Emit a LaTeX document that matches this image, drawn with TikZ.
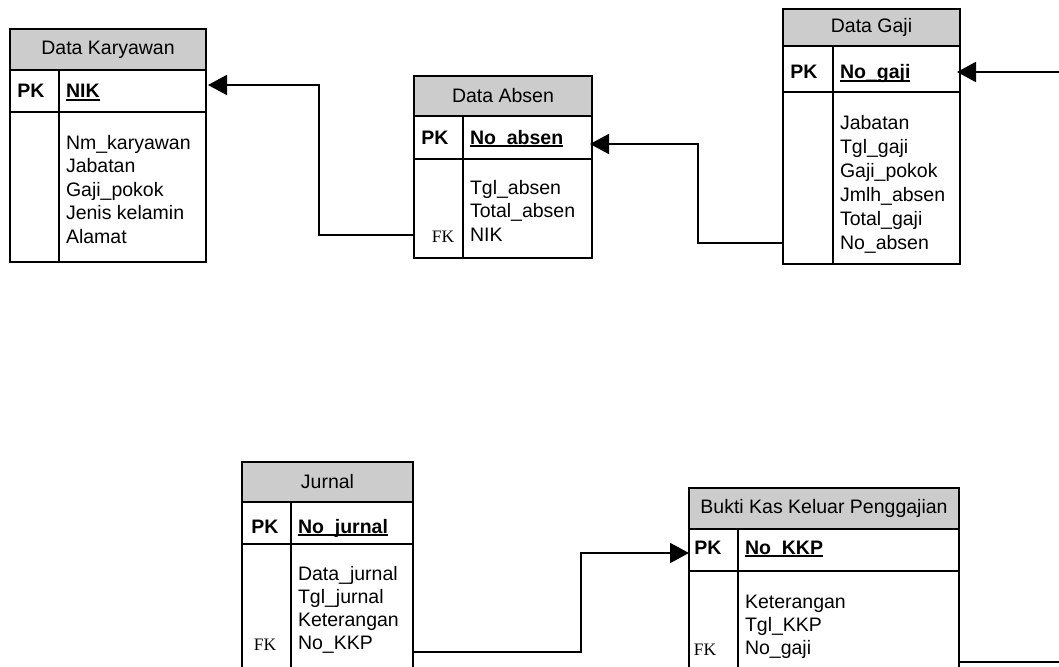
\documentclass[tikz,border=0pt]{standalone}
\usepackage{fontspec}
\setmainfont{Liberation Sans}
\newfontfamily\fkfont{Liberation Serif}
\usetikzlibrary{arrows.meta,calc}
\definecolor{hdrgray}{RGB}{204,204,204}

% bold key name with a heavy underline through the underscore level
\newcommand\keyfield[1]{\setbox0\hbox{\bfseries #1}\rlap{\rule[-3pt]{\wd0}{1.6pt}}\box0}

% table: name, left, top, right, header bottom, pk bottom, bottom, divider x, title
\newcommand\ertable[9]{%
  \node[hdrbox, minimum width={#4-#2}, minimum height={#5-#3}] (#1-hdr) at (#2,#3) {#9};
  \node[rowbox, minimum width={#4-#2}, minimum height={#6-#5}] (#1-pk) at (#2,#5) {};
  \node[rowbox, minimum width={#4-#2}, minimum height={#7-#6}] (#1-body) at (#2,#6) {};
  \draw[boxline] (#8,#5) -- (#8,#7);
}
% attribute lines: name prefix, x, first baseline, line spacing, list
\newcommand\attrlist[5]{%
  \foreach \attrtext [count=\i] in {#5}
    \node[attr] (#1-a\i) at (#2,{#3+(\i-1)*#4}) {\attrtext};
}

\begin{document}
\begin{tikzpicture}[x=1pt,y=-1pt,
  every node/.style={inner sep=0pt, outer sep=0pt},
  boxline/.style={line width=1.1pt, black},
  hdrbox/.style={boxline, draw, fill=hdrgray, anchor=north west,
    font=\fontsize{19.5}{23.5}\selectfont},
  rowbox/.style={boxline, draw, fill=white, anchor=north west},
  attr/.style={anchor=base west, font=\fontsize{19.5}{23.5}\selectfont},
  pklabel/.style={anchor=base, font=\fontsize{19.5}{23.5}\selectfont\bfseries},
  keyname/.style={anchor=base west, font=\fontsize{19.5}{23.5}\selectfont},
  fklabel/.style={anchor=base, font=\fontsize{17.5}{20}\fkfont},
  conn/.style={line width=1.9pt, line join=miter, -{Triangle[length=19pt,width=20pt]}},
  plainconn/.style={line width=1.9pt}]

\useasboundingbox (0,0) rectangle (1059,666);
\fill[white] (0,0) rectangle (1059,666);
\clip (0,0) rectangle (1059,666);

% ---- Data Karyawan ----
\ertable{kar}{10}{29}{206}{70}{112}{262}{59}{Data Karyawan}
\node[pklabel] (kar-pkl) at (31,98) {PK};
\node[keyname] (kar-key) at (66,98) {\keyfield{NIK}};
\attrlist{kar}{66}{149}{23.5}{Nm\_karyawan,Jabatan,Gaji\_pokok,Jenis kelamin,Alamat}

% ---- Data Absen ----
\ertable{abs}{414}{76}{592}{116}{159}{258}{463}{Data Absen}
\node[pklabel] (abs-pkl) at (435,144) {PK};
\node[keyname] (abs-key) at (470,144) {\keyfield{No\_absen}};
\attrlist{abs}{470}{194}{23.5}{Tgl\_absen,Total\_absen,NIK}
\node[fklabel] (abs-fk) at (443,242) {FK};

% ---- Data Gaji ----
\ertable{gaji}{783}{9}{960}{46}{92}{264}{833}{Data Gaji}
\node[pklabel] (gaji-pkl) at (804,79) {PK};
\node[keyname] (gaji-key) at (840,79) {\keyfield{No\_gaji}};
\attrlist{gaji}{840}{129}{24}{Jabatan,Tgl\_gaji,Gaji\_pokok,Jmlh\_absen,Total\_gaji,No\_absen}

% ---- Jurnal ----
\ertable{jur}{242}{462}{413}{502}{544}{700}{291}{Jurnal}
\node[pklabel] (jur-pkl) at (265,533) {PK};
\node[keyname] (jur-key) at (298,533) {\keyfield{No\_jurnal}};
\attrlist{jur}{298}{580}{23}{Data\_jurnal,Tgl\_jurnal,Keterangan,No\_KKP}
\node[fklabel] (jur-fk) at (265,650) {FK};

% ---- Bukti Kas Keluar Penggajian ----
\ertable{bkk}{689}{488}{959}{529}{571}{700}{738}{Bukti Kas Keluar Penggajian}
\node[pklabel] (bkk-pkl) at (708,554) {PK};
\node[keyname] (bkk-key) at (745,554) {\keyfield{No\_KKP}};
\attrlist{bkk}{745}{608}{23}{Keterangan,Tgl\_KKP,No\_gaji}
\node[fklabel] (bkk-fk) at (705,655) {FK};

% ---- relations ----
\coordinate (gaji-in) at (1075,72);
\coordinate (bkk-out) at (1075,662);

\draw[conn, shorten >=2pt] (abs-body.west |- 0,235) -| (319,85) -- (kar-pk.east |- 0,85);
\draw[conn, shorten >=-2pt] (gaji-body.west |- 0,243) -| (698,144) -- (abs-pk.east |- 0,144);
\draw[conn, shorten >=-3pt] (gaji-in) -- (gaji-pk.east |- 0,72);
\draw[conn] (jur-body.east |- 0,652) -| (581,553) -- (bkk-pk.west |- 0,553);
\draw[plainconn] (bkk-body.east |- 0,662) -- (bkk-out);

\end{tikzpicture}
\end{document}
